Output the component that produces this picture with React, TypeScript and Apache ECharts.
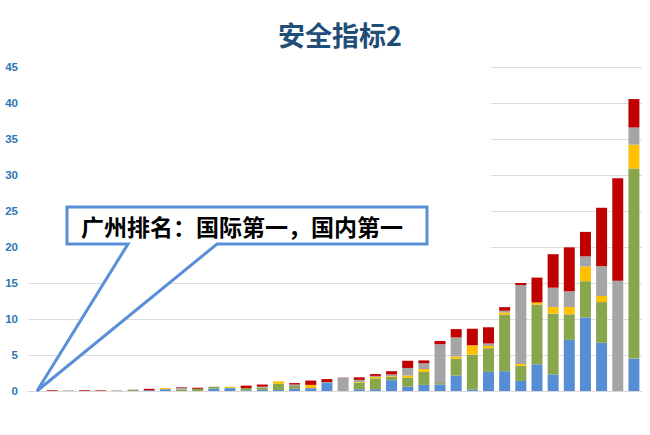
import { useEffect, useRef } from 'react';
import * as echarts from 'echarts';

// 38 个城市，第一个为广州（数值为 0）
const categories = ['广州', ...Array.from({ length: 37 }, (_, i) => `城市${i + 2}`)];

// 堆叠顺序：蓝、绿、黄、灰、红
const blueValues = [
  0, 0, 0, 0, 0, 0.05, 0, 0.1, 0.25, 0, 0, 0.35, 0.4, 0.1, 0.15, 0.15, 0.3, 0.4, 1.1, 0,
  0.25, 0.25, 1.5, 0.6, 0.85, 0.9, 2.15, 0.2, 2.65, 2.75, 1.4, 3.7, 2.3, 7.1, 10.2, 6.7, 0, 4.5,
];
const greenValues = [
  0, 0, 0.05, 0, 0, 0, 0.15, 0, 0, 0.2, 0.3, 0.25, 0.05, 0.3, 0.35, 0.85, 0.4, 0, 0, 0,
  0.9, 1.5, 0.45, 1.25, 1.8, 0.2, 2.35, 4.85, 3.3, 7.85, 2.1, 8.3, 8.45, 3.55, 5.05, 5.65, 0, 26.4,
];
const yellowValues = [
  0, 0, 0, 0, 0, 0, 0, 0, 0.15, 0, 0, 0, 0.15, 0, 0, 0.35, 0, 0.45, 0, 0,
  0.1, 0.2, 0.1, 0.3, 0.4, 0, 0.3, 1.3, 0.3, 0.3, 0.25, 0.3, 0.9, 1.0, 2.05, 0.85, 0, 3.3,
];
const grayValues = [
  0, 0, 0.05, 0, 0.03, 0.05, 0.05, 0, 0, 0.2, 0, 0, 0, 0, 0.1, 0, 0.2, 0, 0.15, 1.8,
  0.3, 0.15, 0.25, 1.05, 0.8, 5.4, 2.65, 0, 0.35, 0.25, 10.95, 0, 2.7, 2.2, 1.4, 4.15, 15.3, 2.4,
];
const redValues = [
  0, 0.1, 0, 0.1, 0.08, 0, 0, 0.2, 0, 0.1, 0.15, 0, 0, 0.35, 0.3, 0, 0.2, 0.6, 0.4, 0.05,
  0.35, 0.25, 0.45, 1.0, 0.4, 0.45, 1.15, 2.3, 2.25, 0.5, 0.3, 3.45, 4.65, 6.1, 3.4, 8.1, 14.25, 3.95,
];

const seriesDefs = [
  { name: '指标一', data: blueValues, color: '#558ED5' },
  { name: '指标二', data: greenValues, color: '#8AA64C' },
  { name: '指标三', data: yellowValues, color: '#FFC000' },
  { name: '指标四', data: grayValues, color: '#A5A5A5' },
  { name: '指标五', data: redValues, color: '#C00000' },
];

const calloutText = '广州排名：国际第一，国内第一';

export default function App() {
  const chartRef = useRef<HTMLDivElement>(null);

  useEffect(() => {
    if (!chartRef.current) return;
    const chart = echarts.init(chartRef.current, undefined, { renderer: 'svg' });

    const option: echarts.EChartsOption = {
      animation: false,
      backgroundColor: '#fff',
      title: {
        text: '安全指标2',
        left: 335,
        top: 16,
        textAlign: 'center',
        textStyle: {
          color: '#1F4E79',
          fontSize: 27,
          fontWeight: 'bold',
          fontFamily: '"Noto Sans CJK SC", sans-serif',
        },
      },
      grid: { left: 28, right: 8, top: 67, bottom: 44 },
      xAxis: {
        type: 'category',
        data: categories,
        axisLine: { lineStyle: { color: '#D9D9D9', width: 1 } },
        axisTick: { show: false },
        axisLabel: { show: false },
      },
      yAxis: {
        type: 'value',
        min: 0,
        max: 45,
        interval: 5,
        axisLine: { show: false },
        axisTick: { show: false },
        axisLabel: {
          color: '#2E75B6',
          fontSize: 11.5,
          fontWeight: 'bold',
          fontFamily: '"Liberation Sans", Arial, sans-serif',
          margin: 10,
        },
        splitLine: { lineStyle: { color: '#DDDDDD', width: 1 } },
      },
      series: seriesDefs.map((s) => ({
        name: s.name,
        type: 'bar',
        stack: 'total',
        barWidth: '68%',
        data: s.data,
        itemStyle: { color: s.color },
      })),
      graphic: [
        // 遮住左上方的网格线
        {
          type: 'rect',
          z: 1,
          shape: { x: 28, y: 55, width: 463, height: 210 },
          style: { fill: '#fff' },
        },
        {
          type: 'polygon',
          z: 100,
          shape: {
            points: [
              [67, 207],
              [427, 207],
              [427, 244],
              [217, 244],
              [37, 391],
              [128, 244],
              [67, 244],
            ],
          },
          style: { fill: '#fff', stroke: '#5A8FD8', lineWidth: 3, lineJoin: 'miter' },
        },
        {
          type: 'text',
          z: 101,
          x: 81,
          y: 226,
          style: {
            text: calloutText,
            fill: '#000',
            fontSize: 23,
            fontWeight: 'bold',
            fontFamily: '"Noto Sans CJK SC", sans-serif',
            verticalAlign: 'middle',
          },
        },
      ],
    };

    chart.setOption(option);
    return () => {
      chart.dispose();
    };
  }, []);

  return (
    <div
      ref={chartRef}
      style={{ position: 'absolute', left: 0, top: 0, width: 650, height: 435 }}
    />
  );
}
